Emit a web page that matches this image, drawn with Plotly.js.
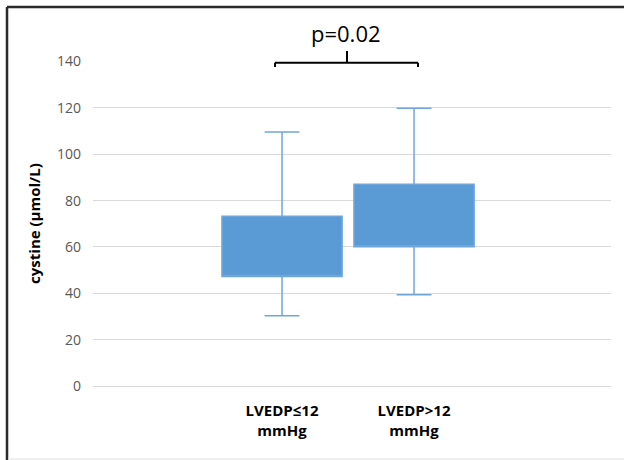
<!DOCTYPE html>
<html>
<head>
<meta charset="utf-8">
<script src="https://cdn.plot.ly/plotly-3.0.1.min.js"></script>
<style>
html,body{margin:0;padding:0;background:#fff;}
#chart{width:624px;height:460px;}
</style>
</head>
<body>
<div id="chart"></div>
<script>
// Data
var categories = ["LVEDP≤12<br>mmHg", "LVEDP>12<br>mmHg"];
var lowerWhisker = [30.3, 39.4];
var q1Values = [47.2, 60.1];
var q3Values = [73.3, 87.1];
var upperWhisker = [109.6, 119.9];
var yTicks = [0, 20, 40, 60, 80, 100, 120, 140];
var pLabel = "p=0.02";
var yTitle = "cystine (μmol/L)";

var trace = {
  type: "box",
  x: categories,
  q1: q1Values,
  median: q1Values,
  q3: q3Values,
  lowerfence: lowerWhisker,
  upperfence: upperWhisker,
  width: 0.91,
  fillcolor: "#5B9BD5",
  line: {color: "#6FA6D9", width: 1.5},
  whiskerwidth: 0.29,
  boxpoints: false,
  hoverinfo: "skip",
  showlegend: false
};

var FIG_W = 624, FIG_H = 460;
var mLeft = 93, mRight = 13, mTop = 61, mBottom = 74;
var plotH = FIG_H - mTop - mBottom;
var plotW = FIG_W - mLeft - mRight;
function py(pix){ return (FIG_H - mBottom - pix) / plotH; }
function px(pix){ return (pix - mLeft) / plotW; }

var font = "Open Sans, DejaVu Sans, sans-serif";

var layout = {
  width: FIG_W, height: FIG_H,
  margin: {l: mLeft, r: mRight, t: mTop, b: mBottom, pad: 0},
  paper_bgcolor: "#ffffff",
  plot_bgcolor: "#ffffff",
  xaxis: {
    type: "category",
    range: [-1.432, 2.492],
    showgrid: false,
    zeroline: false,
    showline: false,
    ticks: "",
    ticklabelstandoff: 14,
    tickfont: {family: font, size: 15, color: "#000000", weight: "bold"},
    fixedrange: true
  },
  yaxis: {
    range: [0, 140.25],
    tickvals: yTicks,
    ticktext: yTicks.map(String),
    showgrid: true,
    gridcolor: "#D9D9D9",
    gridwidth: 1,
    zeroline: true,
    zerolinecolor: "#D9D9D9",
    zerolinewidth: 1,
    showline: false,
    ticks: "",
    ticklabelstandoff: 11,
    tickfont: {family: font, size: 14, color: "#595959"},
    title: {text: yTitle, font: {family: font, size: 15, color: "#000000", weight: "bold"}, standoff: 12},
    fixedrange: true
  },
  shapes: [
    // significance bracket
    {type: "line", xref: "x", yref: "paper", x0: -0.053, x1: 1.03, y0: py(62.7), y1: py(62.7), line: {color: "#000", width: 2}},
    {type: "line", xref: "x", yref: "paper", x0: -0.053, x1: -0.053, y0: py(62.7), y1: py(67), line: {color: "#000", width: 2}},
    {type: "line", xref: "x", yref: "paper", x0: 1.03, x1: 1.03, y0: py(62.7), y1: py(67), line: {color: "#000", width: 2}},
    {type: "line", xref: "x", yref: "paper", x0: 0.492, x1: 0.492, y0: py(62.7), y1: py(51), line: {color: "#000", width: 2}},
    // figure frame
    {type: "line", xref: "paper", yref: "paper", x0: px(7), x1: px(624), y0: py(7), y1: py(7), line: {color: "#2b2b2b", width: 2.5}},
    {type: "line", xref: "paper", yref: "paper", x0: px(7), x1: px(7), y0: py(7), y1: py(460), line: {color: "#2b2b2b", width: 2.5}},
    {type: "line", xref: "paper", yref: "paper", x0: px(8), x1: px(624), y0: py(459), y1: py(459), line: {color: "#E0E0E0", width: 1}}
  ],
  annotations: [
    {text: pLabel, xref: "x", yref: "paper", x: 0.485, y: py(33), xanchor: "center", yanchor: "middle",
     showarrow: false, font: {family: font, size: 22, color: "#000"}}
  ]
};

Plotly.newPlot("chart", [trace], layout, {displayModeBar: false, staticPlot: true});
</script>
</body>
</html>
